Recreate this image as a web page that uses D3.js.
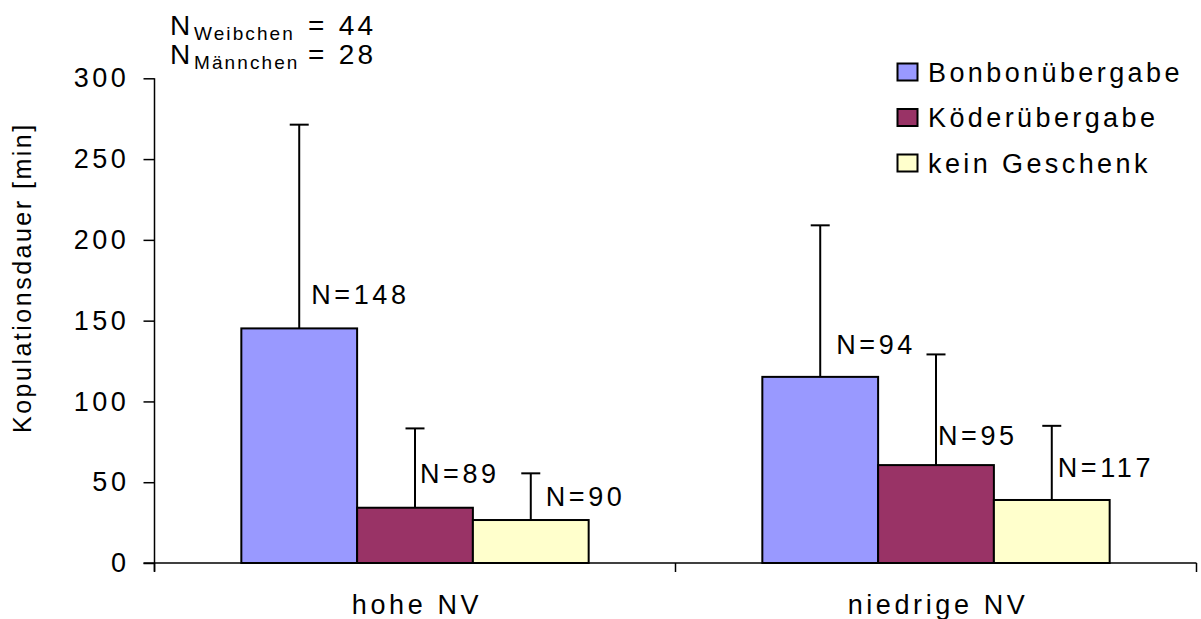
<!DOCTYPE html>
<html>
<head>
<meta charset="utf-8">
<script src="https://cdn.jsdelivr.net/npm/d3@7"></script>
<style>
  html, body { margin: 0; padding: 0; background: #fff; }
  svg { display: block; font-family: "Liberation Sans", Arial, sans-serif; }
</style>
</head>
<body>
<svg id="chart" width="1201" height="619"></svg>
<script>
// ---- data ----
const categories = ["hohe NV", "niedrige NV"];
const seriesNames = ["Bonbonübergabe", "Köderübergabe", "kein Geschenk"];
const bonbonValues = [145.2, 115.2];
const koederValues = [34.2, 60.6];
const keinGeschenkValues = [26.6, 39.0];
const bonbonErrors = [126.1, 93.8];
const koederErrors = [49.1, 68.5];
const keinGeschenkErrors = [28.9, 45.9];
const bonbonN = ["N=148", "N=94"];
const koederN = ["N=89", "N=95"];
const keinGeschenkN = ["N=90", "N=117"];
const yTicks = [0, 50, 100, 150, 200, 250, 300];
const yTitle = "Kopulationsdauer [min]";

// ---- layout / style (not data) ----
const colors = ["#9999FF", "#993366", "#FFFFCC"];
// label anchor: value (in y units) for baseline, pixel x offset from bar centre
const labelBaseline = [[160.2, 129.3], [49.5, 73.0], [35.3, 53.0]];
const labelDx = [[12, 16], [5, 2], [15, 6]];
const FS = 27, LS = 3.6;

const seriesData = [
  { name: seriesNames[0], values: bonbonValues, errors: bonbonErrors, n: bonbonN },
  { name: seriesNames[1], values: koederValues, errors: koederErrors, n: koederN },
  { name: seriesNames[2], values: keinGeschenkValues, errors: keinGeschenkErrors, n: keinGeschenkN }
];

const svg = d3.select("#chart");
const plotLeft = 154.5, plotRight = 1196.5, plotTop = 78.3, plotBottom = 563;

const x0 = d3.scaleBand().domain(categories).range([plotLeft, plotRight]).paddingInner(0).paddingOuter(0);
const x1 = d3.scaleBand().domain(seriesNames).range([0, x0.bandwidth()]).paddingInner(0).paddingOuter(0.75);
const y = d3.scaleLinear().domain([0, 300]).range([plotBottom, plotTop]);

// bars
seriesData.forEach((s, si) => {
  svg.append("g").selectAll("rect").data(categories).join("rect")
    .attr("x", c => x0(c) + x1(s.name))
    .attr("y", (c, i) => y(s.values[i]))
    .attr("width", x1.bandwidth())
    .attr("height", (c, i) => y(0) - y(s.values[i]))
    .attr("fill", colors[si])
    .attr("stroke", "#000")
    .attr("stroke-width", 2);
});

// error bars
seriesData.forEach((s, si) => {
  const g = svg.append("g").attr("stroke", "#000").attr("stroke-width", 2);
  categories.forEach((c, i) => {
    const cx = x0(c) + x1(s.name) + x1.bandwidth() / 2;
    const yt = y(s.values[i] + s.errors[i]);
    g.append("line").attr("x1", cx).attr("x2", cx).attr("y1", y(s.values[i])).attr("y2", yt);
    g.append("line").attr("x1", cx - 9.5).attr("x2", cx + 9.5).attr("y1", yt).attr("y2", yt);
  });
});

// N labels
seriesData.forEach((s, si) => {
  categories.forEach((c, i) => {
    const cx = x0(c) + x1(s.name) + x1.bandwidth() / 2;
    svg.append("text")
      .attr("x", cx + labelDx[si][i])
      .attr("y", y(labelBaseline[si][i]))
      .attr("font-size", FS)
      .attr("letter-spacing", LS)
      .text(s.n[i]);
  });
});

// y axis
const yAxis = svg.append("g").attr("transform", `translate(${plotLeft},0)`)
  .call(d3.axisLeft(y).tickValues(yTicks).tickSize(11).tickPadding(14).tickFormat(d3.format("d")));
yAxis.select(".domain").remove();
yAxis.selectAll(".tick line").attr("stroke", "#000").attr("stroke-width", 1.5);
yAxis.selectAll(".tick text").attr("font-size", FS).attr("letter-spacing", LS)
  .attr("fill", "#000").attr("font-family", "Liberation Sans, Arial, sans-serif");
svg.append("line").attr("x1", plotLeft).attr("x2", plotLeft).attr("y1", y(300)).attr("y2", plotBottom + 8.5)
  .attr("stroke", "#000").attr("stroke-width", 1.5);

// x axis
svg.append("line").attr("x1", plotLeft - 11).attr("x2", plotRight).attr("y1", plotBottom).attr("y2", plotBottom)
  .attr("stroke", "#000").attr("stroke-width", 1.5);
const bounds = categories.map(c => x0(c)).concat([x0(categories[categories.length - 1]) + x0.bandwidth()]);
svg.append("g").selectAll("line").data(bounds).join("line")
  .attr("x1", d => d).attr("x2", d => d).attr("y1", plotBottom).attr("y2", plotBottom + 9)
  .attr("stroke", "#000").attr("stroke-width", 1.5);
svg.append("g").selectAll("text").data(categories).join("text")
  .attr("x", c => x0(c) + x0.bandwidth() / 2 + 2)
  .attr("y", 614)
  .attr("text-anchor", "middle")
  .attr("font-size", FS)
  .attr("letter-spacing", LS)
  .text(c => c);

// y title
svg.append("text")
  .attr("transform", `translate(31,${(plotTop + plotBottom) / 2 - 43}) rotate(-90)`)
  .attr("text-anchor", "middle")
  .attr("font-size", 25)
  .attr("letter-spacing", 2.5)
  .text(yTitle);

// legend
const legendY = [72, 117.5, 163];
seriesNames.forEach((name, i) => {
  svg.append("rect").attr("x", 897.5).attr("y", legendY[i] - 8.5).attr("width", 20).attr("height", 17)
    .attr("fill", colors[i]).attr("stroke", "#000").attr("stroke-width", 2);
  svg.append("text").attr("x", 928).attr("y", legendY[i] + 9.5)
    .attr("font-size", FS).attr("letter-spacing", 3.4).text(name);
});

// N annotation
const ann = svg.append("g");
[["Weibchen", "= 44", 35], ["Männchen", "= 28", 64]].forEach(([sub, val, by]) => {
  ann.append("text").attr("x", 170).attr("y", by).attr("font-size", 28).text("N");
  ann.append("text").attr("x", 194).attr("y", by + 5).attr("font-size", 19).attr("letter-spacing", 2.1).text(sub);
  ann.append("text").attr("x", 308).attr("y", by).attr("font-size", 28).attr("letter-spacing", 3.3).text(val);
});
</script>
</body>
</html>
